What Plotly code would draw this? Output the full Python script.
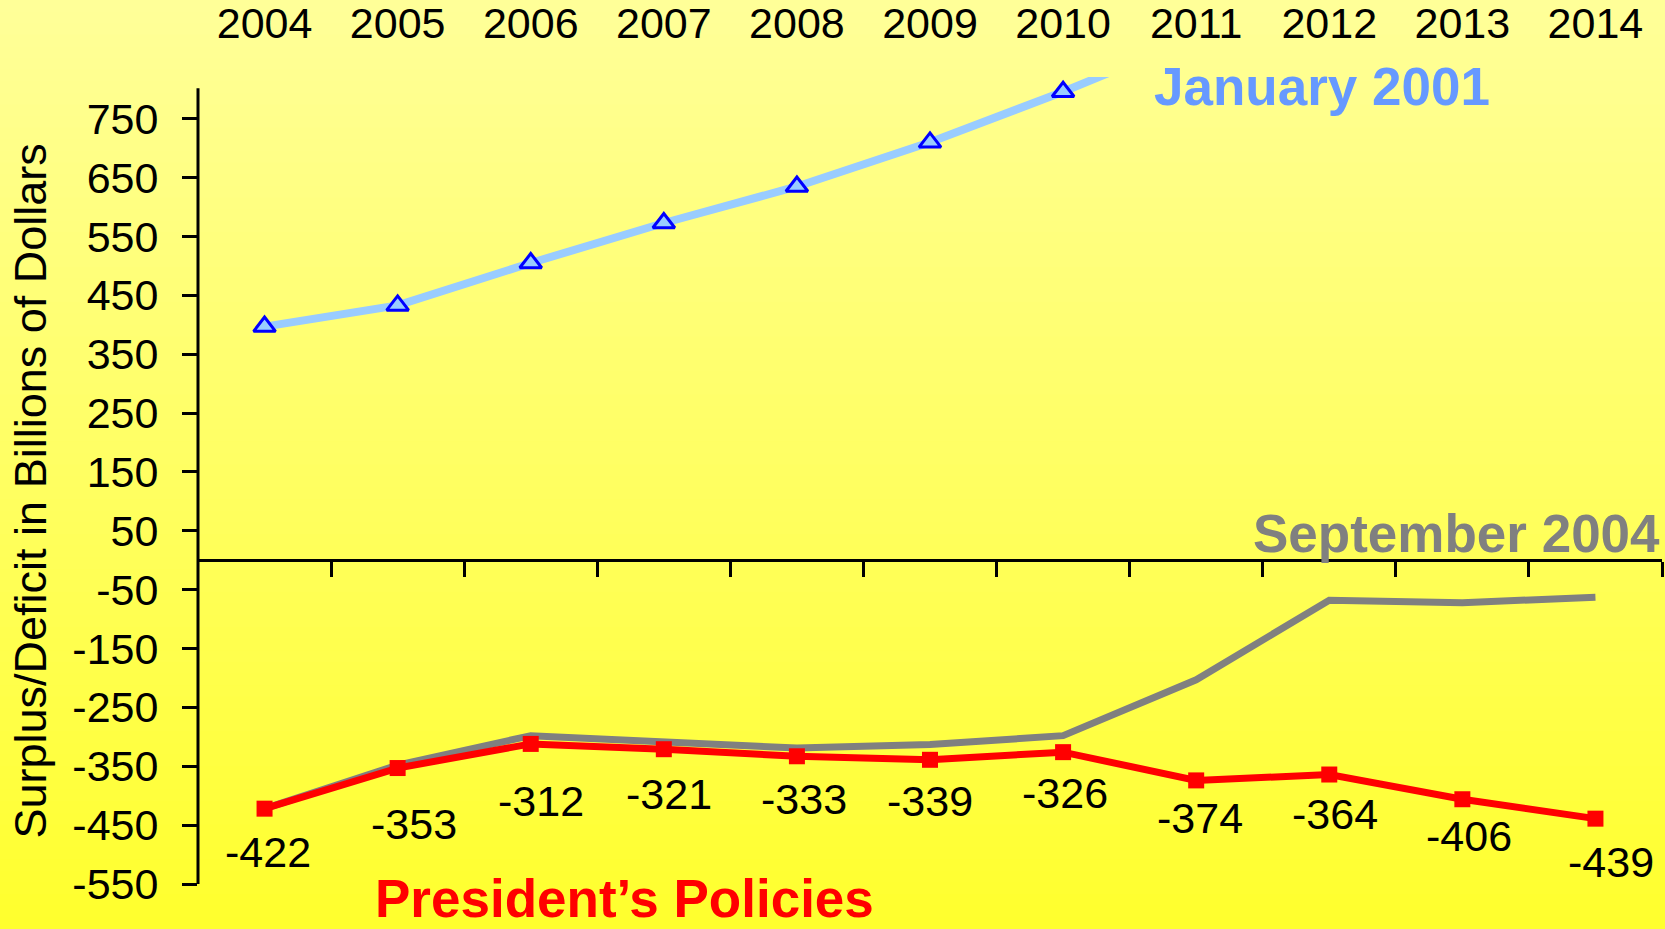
import plotly.graph_objects as go

# ---------------- data ----------------
YEARS = [2004, 2005, 2006, 2007, 2008, 2009, 2010, 2011, 2012, 2013, 2014]
YEAR_LABELS = [str(y) for y in YEARS]
JAN2001_YEARS = [2004, 2005, 2006, 2007, 2008, 2009, 2010, 2011]
JAN2001 = [397, 433, 505, 573, 635, 710, 796, 889]
SEP2004 = [-422, -348, -298, -308, -319, -313, -298, -203, -68, -72, -63]
PRESIDENT = [-422, -353, -312, -321, -333, -339, -326, -374, -364, -406, -439]
Y_TICKS = [750, 650, 550, 450, 350, 250, 150, 50, -50, -150, -250, -350, -450, -550]
Y_TICK_LABELS = [str(v) for v in Y_TICKS]

# ---------------- layout constants ----------------
W, H = 1665, 929
ML, MR, MT, MB = 198, 3, 77, 45
PW, PH = W - ML - MR, H - MT - MB
Y_MIN, Y_MAX = -550, 821
Y_AXIS_TOP = 802
FONT = "Liberation Sans, Arial, sans-serif"
FS = 43

# per-label offset (pixels) of the value labels relative to their points
LABEL_DX = [3, 16, 10, 5, 7, 0, 2, 4, 6, 7, 16]
LABEL_DY = [43, 56, 57, 45, 43, 41, 41, 38, 39, 37, 43]


def px(xpix):
    return (xpix - ML) / PW


def py(ypix):
    return (H - MB - ypix) / PH


fig = go.Figure()

# January 2001 projection
fig.add_trace(go.Scatter(
    x=JAN2001_YEARS, y=JAN2001, mode="lines",
    line=dict(color="#99CCFF", width=8),
    xaxis="x2", yaxis="y", hoverinfo="skip", showlegend=False))
fig.add_trace(go.Scatter(
    x=JAN2001_YEARS[:7], y=JAN2001[:7], mode="markers",
    marker=dict(symbol="triangle-up", size=19, color="#99CCFF",
                line=dict(color="#0000FF", width=3)),
    xaxis="x2", yaxis="y", showlegend=False))

# September 2004 baseline
fig.add_trace(go.Scatter(
    x=YEARS, y=SEP2004, mode="lines",
    line=dict(color="#808080", width=7),
    xaxis="x", yaxis="y", showlegend=False))

# President's policies
fig.add_trace(go.Scatter(
    x=YEARS, y=PRESIDENT, mode="lines+markers",
    line=dict(color="#FF0000", width=7),
    marker=dict(symbol="square", size=16, color="#FF0000"),
    xaxis="x", yaxis="y", showlegend=False))

annotations = []
for yr, v, dx, dy in zip(YEARS, PRESIDENT, LABEL_DX, LABEL_DY):
    annotations.append(dict(
        x=yr, y=v, xref="x", yref="y", text=str(v), showarrow=False,
        xanchor="center", yanchor="middle", xshift=dx, yshift=-dy,
        font=dict(family=FONT, size=FS, color="black")))

annotations += [
    dict(x=px(1322), y=py(86.5), xref="paper", yref="paper", text="<b>January 2001</b>",
         showarrow=False, xanchor="center", yanchor="middle",
         font=dict(family=FONT, size=53, color="#6699FF")),
    dict(x=px(1456.5), y=py(533.5), xref="paper", yref="paper", text="<b>September 2004</b>",
         showarrow=False, xanchor="center", yanchor="middle",
         font=dict(family=FONT, size=53, color="#808080")),
    dict(x=px(624.5), y=py(929), xref="paper", yref="paper", text="<b>President\u2019s Policies</b>",
         showarrow=False, xanchor="center", yanchor="bottom", borderpad=0,
         font=dict(family=FONT, size=53, color="#FF0000")),
    dict(x=px(30), y=py(491.5), xref="paper", yref="paper",
         text="Surplus/Deficit in Billions of Dollars", textangle=-90,
         showarrow=False, xanchor="center", yanchor="middle",
         font=dict(family=FONT, size=45, color="black")),
]

# background gradient (pale yellow at top to bright yellow at bottom)
shapes = []
N = 80
top_b, bot_b = 153, 45
for i in range(N):
    y0pix = H * i / N - (1 if i == 0 else 0)
    y1pix = H * (i + 1) / N + 1
    t = (i + 0.5) / N
    b = round(top_b + (bot_b - top_b) * t)
    shapes.append(dict(type="rect", xref="paper", yref="paper",
                       x0=px(-5), x1=px(W + 5), y0=py(y1pix), y1=py(y0pix),
                       fillcolor=f"rgb(255,255,{b})", line=dict(width=0), layer="below"))

# y axis line (stops a little below the clip edge)
shapes.append(dict(type="line", xref="paper", yref="y", x0=0, x1=0,
                   y0=Y_MIN, y1=Y_AXIS_TOP, line=dict(color="black", width=3)))

zero_pos = (0 - Y_MIN) / (Y_MAX - Y_MIN)

fig.update_layout(
    width=W, height=H,
    margin=dict(l=ML, r=MR, t=MT, b=MB, pad=0, autoexpand=False),
    paper_bgcolor="#FFFF99",
    plot_bgcolor="rgba(0,0,0,0)",
    font=dict(family=FONT, size=FS, color="black"),
    showlegend=False,
    shapes=shapes,
    annotations=annotations,
    xaxis=dict(
        range=[YEARS[0] - 0.5, YEARS[-1] + 0.5], side="top", anchor="y",
        tickmode="array", tickvals=YEARS, ticktext=YEAR_LABELS,
        ticks="", showline=False, showgrid=False, zeroline=False,
        ticklabelstandoff=29, automargin=False,
        tickfont=dict(family=FONT, size=FS, color="black"),
    ),
    xaxis2=dict(
        range=[YEARS[0] - 0.5, YEARS[-1] + 0.5], overlaying="x", anchor="free",
        position=zero_pos, side="bottom",
        tickmode="array", tickvals=[y + 0.5 for y in YEARS], showticklabels=False,
        ticks="outside", ticklen=15, tickwidth=3, tickcolor="black",
        showline=True, linecolor="black", linewidth=3,
        showgrid=False, zeroline=False, automargin=False,
    ),
    yaxis=dict(
        range=[Y_MIN, Y_MAX], tickmode="array", tickvals=Y_TICKS, ticktext=Y_TICK_LABELS,
        ticks="outside", ticklen=15, tickwidth=3, tickcolor="black",
        showline=False, showgrid=False, zeroline=False, automargin=False,
        ticklabelstandoff=15,
        tickfont=dict(family=FONT, size=FS, color="black"),
    ),
)

POST = (
    "document.documentElement.style.margin='0';"
    "document.body.style.margin='0';"
    "document.body.style.overflow='hidden';"
    "var d=document.getElementById('{plot_id}');"
    "d.style.position='fixed';d.style.top='0px';d.style.left='0px';"
)
fig.write_html("out.html", config={"displayModeBar": False}, post_script=POST)
